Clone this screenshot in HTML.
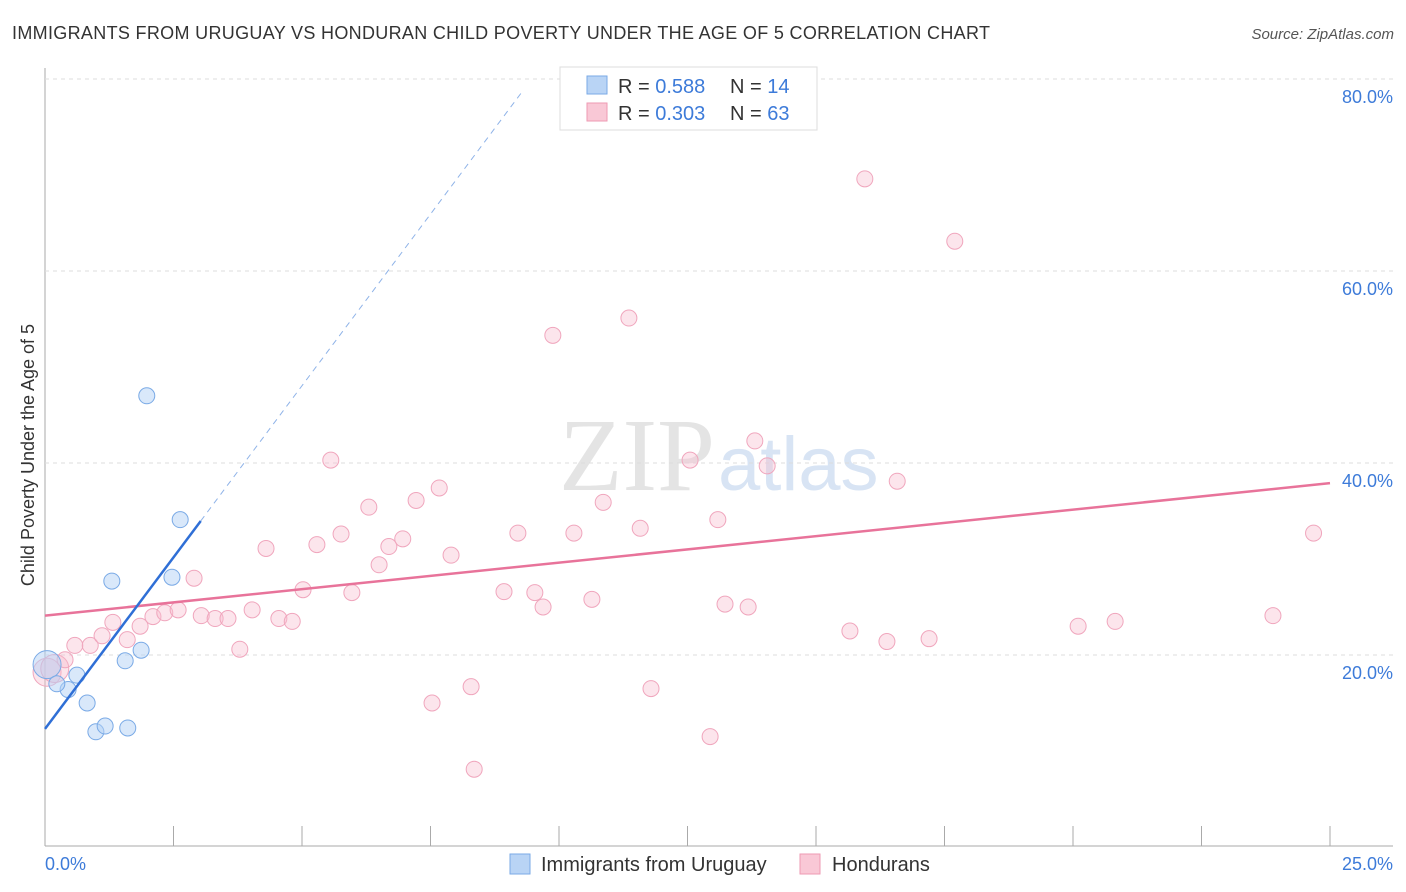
<!DOCTYPE html>
<html><head><meta charset="utf-8">
<style>
body{margin:0;background:#fff;font-family:"Liberation Sans",sans-serif;}
#wrap{position:relative;width:1406px;height:892px;overflow:hidden;}
</style></head>
<body>
<div id="wrap">
<svg id="svg" width="1406" height="892" xmlns="http://www.w3.org/2000/svg">
<text x="12" y="39" font-size="18" fill="#333" textLength="978">IMMIGRANTS FROM URUGUAY VS HONDURAN CHILD POVERTY UNDER THE AGE OF 5 CORRELATION CHART</text>
<text x="1394" y="39" font-size="15" fill="#555" font-style="italic" text-anchor="end">Source: ZipAtlas.com</text>
<text x="715" y="490" font-size="104" fill="#e4e4e4" text-anchor="end" font-family="Liberation Serif">ZIP</text>
<text x="718" y="490" font-size="76" fill="#d8e4f4">atlas</text>
<text transform="translate(34,455) rotate(-90)" font-size="18" fill="#333" text-anchor="middle">Child Poverty Under the Age of 5</text>
<g id="grid"></g><g id="marks"></g>
<g>
<rect x="560" y="67" width="257" height="63" fill="#fff" stroke="#ddd"/>
<rect x="587" y="76" width="20" height="18" fill="#b9d4f5" stroke="#7aaae6"/>
<rect x="587" y="103" width="20" height="18" fill="#f9c8d6" stroke="#ee9ab3"/>
<text x="618" y="93" font-size="20" fill="#333">R = <tspan fill="#3d7bd9">0.588</tspan></text>
<text x="730" y="93" font-size="20" fill="#333">N = <tspan fill="#3d7bd9">14</tspan></text>
<text x="618" y="120" font-size="20" fill="#333">R = <tspan fill="#3d7bd9">0.303</tspan></text>
<text x="730" y="120" font-size="20" fill="#333">N = <tspan fill="#3d7bd9">63</tspan></text>
</g>
<g>
<rect x="510" y="854" width="20" height="20" fill="#b9d4f5" stroke="#7aaae6"/>
<text x="541" y="871" font-size="20" fill="#333">Immigrants from Uruguay</text>
<rect x="800" y="854" width="20" height="20" fill="#f9c8d6" stroke="#ee9ab3"/>
<text x="832" y="871" font-size="20" fill="#333">Hondurans</text>
</g>
</svg>
</div>
<script>
const xTicks=[0,2.5,5,7.5,10,12.5,15,17.5,20,22.5,25];
const yTicks=[20,40,60,80];
const yTickLabels=["20.0%","40.0%","60.0%","80.0%"];
const blueX=[0.04,0.45,0.62,0.23,0.82,0.99,1.17,1.61,1.3,1.56,1.87,1.98,2.47,2.63];
const blueY=[19.0,16.4,17.9,17.0,15.0,12.0,12.6,12.4,27.7,19.4,20.5,47.0,28.1,34.1];
const pinkX=[0.04,0.19,0.39,0.58,0.88,1.11,1.32,1.60,1.85,2.10,2.33,2.59,2.90,3.04,3.31,3.56,3.79,4.03,4.30,4.55,4.81,5.02,5.29,5.56,5.76,5.97,6.30,6.50,6.69,6.96,7.22,7.53,7.67,7.90,8.29,8.35,8.93,9.20,9.53,9.69,9.88,10.29,10.64,10.86,11.36,11.58,11.79,12.55,12.94,13.09,13.23,13.68,13.81,14.05,15.66,15.95,16.38,16.58,17.20,17.70,20.10,20.82,23.89,24.68];
const pinkY=[18.2,18.6,19.5,21.0,21.0,22.0,23.4,21.6,23.0,24.0,24.4,24.7,28.0,24.1,23.8,23.8,20.6,24.7,31.1,23.8,23.5,26.8,31.5,40.3,32.6,26.5,35.4,29.4,31.3,32.1,36.1,15.0,37.4,30.4,16.7,8.1,26.6,32.7,26.5,25.0,53.3,32.7,25.8,35.9,55.1,33.2,16.5,40.3,11.5,34.1,25.3,25.0,42.3,39.7,22.5,69.6,21.4,38.1,21.7,63.1,23.0,23.5,24.1,32.7];
const blueLine=[12.3,7.15];
const pinkLine=[24.1,0.552];
const sx=v=>45+v*51.4, sy=v=>847-v*9.6;
const NS="http://www.w3.org/2000/svg";
const grid=document.getElementById('grid'), marks=document.getElementById('marks');
function mk(tag,at,parent){const e=document.createElementNS(NS,tag);for(const k in at)e.setAttribute(k,at[k]);parent.appendChild(e);return e;}
let ax=mk('line',{x1:45,y1:68,x2:45,y2:846,stroke:'#aaa'},grid);


let bx=mk('line',{x1:45,y1:846,x2:1393,y2:846,stroke:'#aaa'},grid);


yTicks.forEach((t,i)=>{
 let g=mk('line',{x1:45,y1:sy(t),x2:1393,y2:sy(t),stroke:'#ddd','stroke-dasharray':'4,4'},grid);
 
 
 let l=mk('text',{x:1393,y:sy(t)+24,'font-size':18,fill:'#3d7bd9','text-anchor':'end'},grid);
 l.textContent=yTickLabels[i];
 
 
});
xTicks.forEach((t,i)=>{
 if(i===0)return;
 let k=mk('line',{x1:sx(t),y1:826,x2:sx(t),y2:846,stroke:'#aaa'},grid);
 
 
});
let x0=mk('text',{x:45,y:870,'font-size':18,fill:'#3d7bd9'},grid);x0.textContent='0.0%';


let x1=mk('text',{x:1393,y:870,'font-size':18,fill:'#3d7bd9','text-anchor':'end'},grid);x1.textContent='25.0%';


pinkX.forEach((x,i)=>{
 let c=mk('circle',{cx:sx(x),cy:sy(pinkY[i]),r:i<2?14:8,fill:'rgba(248,190,208,0.4)',stroke:'#f0a6bd','stroke-width':1},marks);
 
 
});
blueX.forEach((x,i)=>{
 let c=mk('circle',{cx:sx(x),cy:sy(blueY[i]),r:i===0?14:8,fill:'rgba(180,210,245,0.5)',stroke:'#7aaae6','stroke-width':1},marks);
 
 
});
let pl=mk('line',{x1:sx(0),y1:sy(pinkLine[0]),x2:sx(25),y2:sy(pinkLine[0]+25*pinkLine[1]),stroke:'#e8739a','stroke-width':2.5},marks);


let bl=mk('line',{x1:sx(0),y1:sy(blueLine[0]),x2:sx(3.03),y2:sy(blueLine[0]+3.03*blueLine[1]),stroke:'#2f6fd6','stroke-width':2.5},marks);


let bd=mk('line',{x1:sx(3.03),y1:sy(blueLine[0]+3.03*blueLine[1]),x2:sx(9.26),y2:sy(blueLine[0]+9.26*blueLine[1]),stroke:'#8fb3e8','stroke-width':1,'stroke-dasharray':'6,5'},marks);


</script>
</body></html>
